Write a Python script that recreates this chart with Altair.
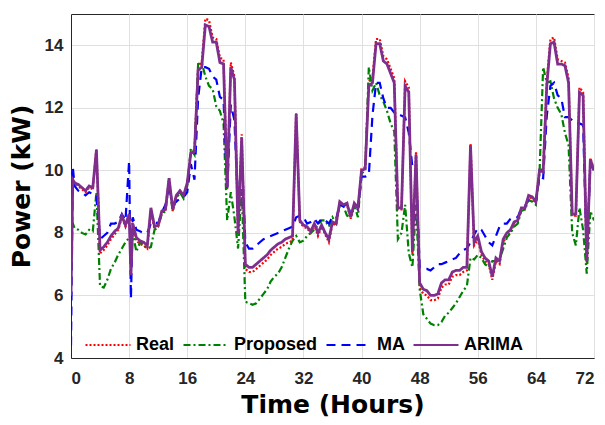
import altair as alt
import pandas as pd

# time grid (hours): 0.5 h steps with two extra samples at 0.25 and 8.25
hours = [0.0, 0.25] + [i * 0.5 for i in range(1, 17)] + [8.25] + [i * 0.5 for i in range(17, 145)]

real = ([9.75, 9.7]
        + [9.6, 9.5, 9.4, 9.3, 9.45, 9.4, 10.7, 7.35, 7.45, 7.6, 7.8, 7.95, 8.1, 8.5, 8.2, 8.55]
        + [8.45]
        + [8.25, 7.75, 7.65, 7.6, 7.5, 8.75, 8.1, 8.2, 8.65, 8.7, 9.75, 8.7, 9.15, 9.3, 9.15, 9.55]
        + [10.6, 10.65, 13.35, 13.45, 14.85, 14.8, 14.25, 14.2, 13.6, 13.55, 9.4, 13.45, 13.0, 7.95, 11.15, 6.85]
        + [6.75, 6.75, 6.85, 6.95, 7.05, 7.15, 7.3, 7.4, 7.5, 7.55, 7.65, 7.7, 7.75, 11.85, 8.35, 8.2]
        + [8.15, 8.0, 8.25, 7.9, 8.2, 7.95, 7.7, 8.3, 8.25, 8.95, 8.85, 8.9, 8.45, 8.9, 8.75, 10.05]
        + [10.1, 12.85, 12.95, 14.2, 14.2, 13.65, 13.55, 13.25, 12.95, 8.75, 8.75, 12.85, 12.65, 7.3, 10.6, 6.25]
        + [6.05, 6.0, 5.85, 5.85, 5.9, 6.25, 6.35, 6.35, 6.6, 6.65, 6.65, 6.75, 6.8, 10.85, 7.6, 7.8]
        + [7.3, 7.1, 7.0, 6.5, 7.1, 7.0, 7.7, 7.9, 8.0, 8.3, 8.35, 8.75, 8.75, 9.15, 9.1, 8.95]
        + [10.05, 10.0, 12.85, 14.2, 14.25, 13.55, 13.5, 13.45, 12.95, 8.55, 8.55, 12.65, 12.5, 7.0, 10.4, 10.0])

proposed = ([8.35, 8.3]
            + [8.15, 8.1, 8.0, 7.95, 8.1, 8.05, 9.3, 6.3, 6.25, 6.5, 6.85, 7.05, 7.3, 7.5, 7.7, 7.85]
            + [7.9]
            + [8.0, 7.4, 7.7, 7.6, 7.5, 7.55, 8.1, 8.2, 8.6, 8.7, 9.6, 8.7, 9.1, 9.3, 9.1, 9.5]
            + [10.7, 10.5, 13.4, 13.45, 13.0, 12.7, 12.6, 12.05, 11.9, 11.5, 8.4, 9.3, 8.5, 7.5, 9.4, 5.8]
            + [5.75, 5.7, 5.75, 5.9, 6.05, 6.2, 6.45, 6.6, 6.7, 6.9, 7.2, 7.5, 7.75, 7.9, 7.7, 7.75]
            + [7.9, 8.0, 8.1, 8.25, 8.4, 8.4, 8.2, 8.5, 8.3, 8.9, 8.85, 8.55, 8.5, 8.9, 8.5, 9.9]
            + [10.0, 13.3, 12.55, 12.8, 12.4, 12.2, 11.9, 11.5, 11.25, 7.8, 8.0, 8.9, 7.35, 6.9, 8.9, 6.2]
            + [5.4, 5.25, 5.1, 5.05, 5.05, 5.15, 5.35, 5.45, 5.6, 5.75, 5.95, 6.15, 6.3, 7.2, 7.15, 7.3]
            + [7.2, 7.0, 6.9, 7.1, 7.1, 7.15, 7.5, 7.85, 8.0, 8.2, 8.3, 8.7, 8.75, 9.05, 9.0, 8.9]
            + [9.9, 13.3, 12.8, 12.85, 12.3, 12.0, 11.8, 11.2, 10.8, 8.0, 7.6, 8.8, 8.1, 6.7, 8.7, 8.4])

ma = ([4.4, 10.1]
      + [9.5, 9.35, 9.3, 9.2, 9.3, 9.25, 9.2, 7.8, 7.9, 8.0, 8.3, 8.3, 8.35, 8.6, 8.4, 10.3]
      + [5.9]
      + [8.5, 8.1, 8.05, 8.0, 8.0, 8.3, 8.35, 8.3, 8.65, 8.9, 9.5, 8.9, 9.0, 9.1, 9.15, 9.3]
      + [10.2, 9.7, 12.3, 13.3, 13.3, 13.25, 13.0, 12.9, 12.35, 12.25, 9.35, 12.1, 11.6, 8.8, 10.5, 7.7]
      + [7.5, 7.5, 7.6, 7.7, 7.8, 7.85, 7.9, 7.95, 8.0, 8.05, 8.1, 8.15, 8.2, 8.5, 8.55, 8.5]
      + [8.3, 8.35, 8.45, 8.3, 8.45, 8.4, 8.3, 8.5, 8.45, 8.9, 8.85, 8.95, 8.6, 8.8, 8.75, 9.8]
      + [9.8, 9.85, 11.75, 12.8, 12.8, 12.3, 12.0, 12.0, 11.85, 11.8, 11.75, 11.7, 11.2, 10.1, 10.0, 6.9]
      + [6.85, 6.85, 6.8, 6.9, 7.0, 7.0, 7.05, 7.1, 7.15, 7.2, 7.35, 7.45, 7.5, 7.7, 7.95, 8.15]
      + [8.1, 7.9, 7.7, 7.6, 7.9, 8.2, 8.3, 8.3, 8.45, 8.5, 8.5, 8.8, 8.85, 9.1, 9.05, 9.0]
      + [9.8, 9.75, 11.75, 12.7, 12.8, 12.4, 12.3, 11.7, 11.7, 11.6, 11.5, 11.5, 11.45, 7.3, 10.2, 10.0])

arima = ([6.0, 9.7]
         + [9.6, 9.55, 9.45, 9.35, 9.5, 9.45, 10.65, 7.45, 7.55, 7.7, 7.9, 8.05, 8.15, 8.55, 8.25, 8.6]
         + [6.65]
         + [8.3, 7.85, 7.75, 7.7, 7.6, 8.8, 8.2, 8.25, 8.7, 8.75, 9.75, 8.75, 9.2, 9.35, 9.2, 9.6]
         + [10.55, 10.6, 13.2, 13.3, 14.65, 14.6, 14.1, 14.1, 13.45, 13.4, 9.45, 13.3, 12.9, 8.0, 11.05, 7.0]
         + [6.9, 6.9, 7.0, 7.1, 7.2, 7.3, 7.45, 7.55, 7.65, 7.7, 7.8, 7.85, 7.9, 11.8, 8.4, 8.25]
         + [8.2, 8.05, 8.3, 8.0, 8.25, 8.0, 7.8, 8.35, 8.3, 9.0, 8.9, 8.95, 8.5, 8.95, 8.8, 10.0]
         + [10.05, 12.7, 12.8, 14.05, 14.05, 13.5, 13.4, 13.1, 12.8, 8.8, 8.8, 12.7, 12.5, 7.4, 10.5, 6.4]
         + [6.2, 6.15, 6.0, 6.0, 6.05, 6.4, 6.5, 6.5, 6.75, 6.8, 6.8, 6.9, 6.9, 10.8, 7.7, 7.9]
         + [7.4, 7.2, 7.1, 6.6, 7.2, 7.1, 7.8, 8.0, 8.1, 8.35, 8.4, 8.8, 8.8, 9.2, 9.15, 9.0]
         + [10.0, 9.95, 12.7, 14.05, 14.1, 13.4, 13.4, 13.35, 12.8, 8.6, 8.6, 12.5, 12.4, 7.1, 10.35, 10.0])

names = ["Real", "Proposed", "MA", "ARIMA"]
colors = ["#FF0000", "#008000", "#0000FF", "#7E2F8E"]
dashes = [[2, 2], [7, 3, 2, 3], [9, 6], [1, 0]]
widths = [2.2, 2.2, 2.2, 2.8]
series_values = [real, proposed, ma, arima]

rows = []
for name, vals in zip(names, series_values):
    for t, v in zip(hours, vals):
        rows.append({"t": t, "p": v, "series": name})
df = pd.DataFrame(rows)

color_scale = alt.Scale(domain=names, range=colors)
dash_scale = alt.Scale(domain=names, range=dashes)

legend = alt.Legend(
    title=None, orient="none", legendX=13, legendY=307, direction="horizontal",
    symbolType="stroke", symbolSize=2025, symbolStrokeWidth=2.2,
    labelFont="Liberation Sans", labelFontWeight="bold", labelFontSize=18,
    labelColor="#000000", labelOffset=4, columnPadding=4, padding=0,
)

x = alt.X("t:Q", scale=alt.Scale(domain=[0, 72], nice=False),
          axis=alt.Axis(values=list(range(0, 73, 8)), title="Time (Hours)",
                        titleBaseline="alphabetic", titleY=54, labelPadding=12))
y = alt.Y("p:Q", scale=alt.Scale(domain=[4, 15], nice=False),
          axis=alt.Axis(values=[4, 6, 8, 10, 12, 14], title="Power (kW)",
                        titleBaseline="alphabetic", titleX=-42, labelPadding=8))

layers = []
for n, w in zip(names, widths):
    layers.append(
        alt.Chart(df)
        .transform_filter(alt.datum.series == n)
        .mark_line(strokeWidth=w, clip=True)
        .encode(
            x=x, y=y,
            color=alt.Color("series:N", scale=color_scale, legend=legend),
            strokeDash=alt.StrokeDash("series:N", scale=dash_scale, legend=legend),
        )
    )

chart = (
    alt.layer(*layers)
    .properties(width=523, height=344,
                padding={"left": 63, "top": 6, "right": 3, "bottom": 59},
                autosize=alt.AutoSizeParams(type="none"))
    .configure_view(stroke="#262626", strokeWidth=1)
    .configure_axis(
        domain=True, domainColor="#262626", domainWidth=1,
        ticks=False, grid=True, gridColor="#e0e0e0", gridWidth=1,
        labelFont="Liberation Sans", labelFontWeight="bold", labelFontSize=17,
        labelColor="#262626",
        titleFont="DejaVu Sans", titleFontWeight="bold", titleFontSize=25,
        titleColor="#000000",
    )
)

chart.save("out.html", embed_options={"renderer": "svg", "actions": False})
